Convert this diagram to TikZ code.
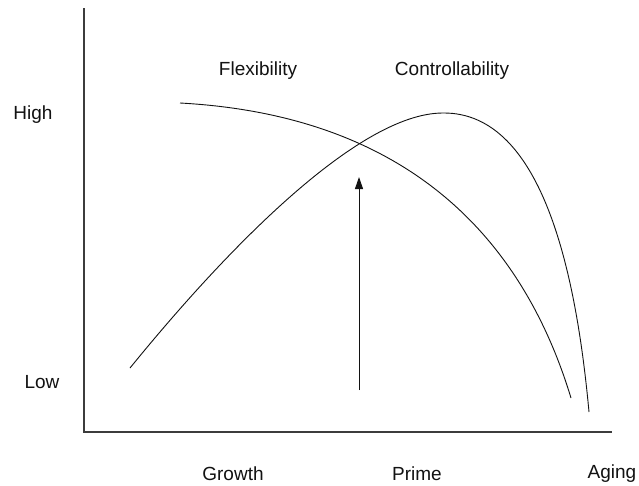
\documentclass[tikz,border=0pt]{standalone}
\usepackage{fontspec}
\setmainfont{Liberation Sans}
\usepackage{tikz}
\usepackage{xcolor}
\usetikzlibrary{arrows.meta}
\usetikzlibrary{positioning}

\begin{document}
\begin{tikzpicture}[x={1pt}, y={-1pt}, draw]
				\definecolor{WHITE}{RGB}{255, 255, 255}
				\definecolor{AXIS_GRAY}{RGB}{60, 60, 60}
				\definecolor{ALMOST_BLACK}{RGB}{18, 18, 18}
				\tikzset{
					label text/.style={font={\fontsize{19}{22}\selectfont}, color={ALMOST_BLACK!100}, inner sep=0pt},
					curve line/.style={line width={0.9pt}, color={ALMOST_BLACK!100}},
				}
				\useasboundingbox[fill={WHITE!100}] (0, 0) rectangle (639, 485);
				
				% axes
				\coordinate (axis_top) at (84, 8);
				\coordinate (axis_origin) at (84, 432);
				\coordinate (axis_right) at (612, 432);
				\draw[line width={1.2pt}, color={AXIS_GRAY!100}] (axis_top) -- (axis_origin) -- (axis_right);
				
				% level labels
				\node[label text] (high) at (33, 115) {High};
				\node[label text] (low) at (42, 382) {Low};
				
				% stage labels
				\node[label text] (growth) at (233, 474) {Growth};
				\node[label text] (prime) at (417, 474) {Prime};
				\node[label text] (aging) at (612, 474) {Aging};
				
				% curve labels
				\node[label text] (flexibility) at (258, 71) {Flexibility};
				\node[label text] (controllability) at (452, 71) {Controllability};
				
				% flexibility curve
				\coordinate (flex_start) at (180, 103);
				\coordinate (flex_end) at (571, 398);
				\draw[curve line] (flex_start) .. controls (400, 115) and (520, 230) .. (flex_end);
				
				% controllability curve
				\coordinate (ctrl_start) at (130, 368);
				\coordinate (ctrl_peak) at (443, 113);
				\coordinate (ctrl_end) at (589, 412);
				\draw[curve line] (ctrl_start) .. controls (230, 245) and (360, 113) .. (ctrl_peak)
					.. controls (545, 112) and (577, 282) .. (ctrl_end);
				
				% arrow
				\coordinate (arrow_start) at (359, 390);
				\coordinate (arrow_end) at (359, 177);
				\draw[line width={1.0pt}, color={ALMOST_BLACK!100}, -{Triangle[length=12pt, width=8pt]}] (arrow_start) -- (arrow_end);
			\end{tikzpicture}
\end{document}
